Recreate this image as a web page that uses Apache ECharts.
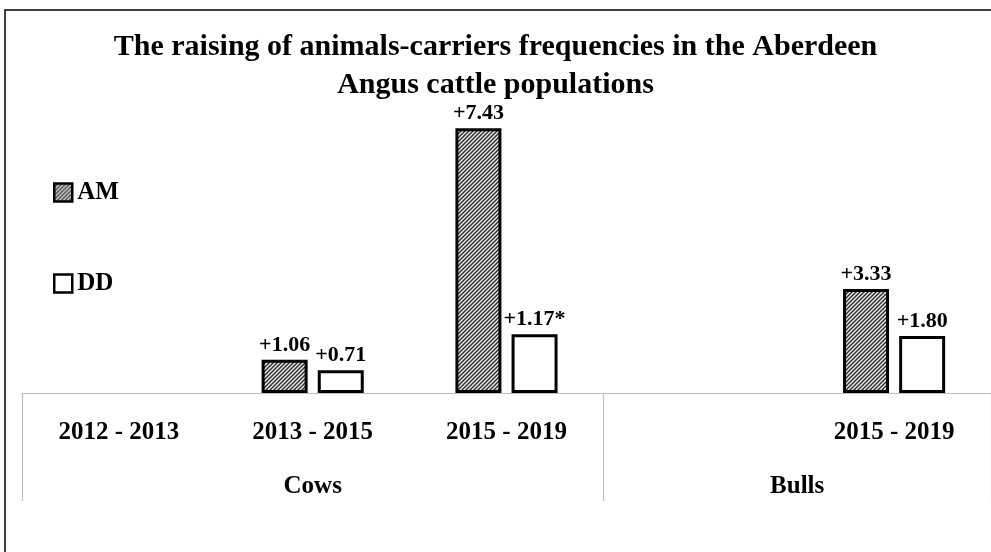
<!DOCTYPE html>
<html>
<head>
<meta charset="utf-8">
<script src="https://cdn.jsdelivr.net/npm/echarts@6/dist/echarts.min.js"></script>
<style>
  html, body { margin: 0; padding: 0; background: #fff; }
  #chart { width: 991px; height: 552px; }
</style>
</head>
<body>
<div id="chart"></div>
<script>
// periods along the bottom (the empty 4th slot leaves room for the Bulls group)
const categories = ['2012 - 2013', '2013 - 2015', '2015 - 2019', '', '2015 - 2019']
const groups = ['Cows', 'Bulls']
const groupCenters = [1.5, 4]
const groupEdges = [0, 3, 5]

// bar heights as drawn, and the printed labels above them
const amValues = ['-', 0.93, 7.43, '-', 2.92]
const ddValues = ['-', 0.64, 1.65, '-', 1.60]
const amLabels = ['', '+1.06', '+7.43', '', '+3.33']
const ddLabels = ['', '+0.71', '+1.17*', '', '+1.80']

const FONT = "'Liberation Serif', 'DejaVu Serif', serif"

// diagonal hatch for AM
const makeHatch = () => {
  const c = document.createElement('canvas')
  c.width = 4
  c.height = 4
  const ctx = c.getContext('2d')
  ctx.fillStyle = '#e6e6e6'
  ctx.fillRect(0, 0, 4, 4)
  ctx.strokeStyle = '#2a2a2a'
  ctx.lineWidth = 1.3
  ctx.beginPath()
  ctx.moveTo(-1, 5); ctx.lineTo(5, -1)
  ctx.moveTo(-1, 1); ctx.lineTo(1, -1)
  ctx.moveTo(3, 5); ctx.lineTo(5, 3)
  ctx.stroke()
  return c
}
const hatch = { image: makeHatch(), repeat: 'repeat' }

const chart = echarts.init(document.getElementById('chart'))

const labelStyle = (texts) => ({
  show: true,
  position: 'top',
  distance: 4,
  color: '#000',
  fontFamily: FONT,
  fontWeight: 'bold',
  fontSize: 22,
  formatter: (p) => texts[p.dataIndex]
})

const option = {
  animation: false,
  backgroundColor: '#fff',
  title: {
    text: 'The raising of animals-carriers frequencies in the Aberdeen\nAngus cattle populations',
    left: 'center',
    top: 23,
    textStyle: {
      fontFamily: FONT,
      fontWeight: 'bold',
      fontSize: 30,
      lineHeight: 38,
      color: '#000'
    }
  },
  legend: {
    orient: 'vertical',
    left: 48,
    top: 175,
    itemGap: 66,
    itemWidth: 18,
    itemHeight: 18,
    icon: 'rect',
    itemStyle: { borderColor: '#000', borderWidth: 2.5 },
    textStyle: { fontFamily: FONT, fontWeight: 'bold', fontSize: 25, color: '#000' },
    data: ['AM', 'DD']
  },
  graphic: [
    {
      // frame: left and top edges only
      type: 'polyline',
      shape: { points: [[5, 560], [5, 10], [995, 10]] },
      style: { fill: 'none', stroke: '#000', lineWidth: 1.5 },
      silent: true
    }
  ],
  grid: { left: 22, right: 0, top: 108, bottom: 159 },
  xAxis: [
    {
      type: 'category',
      data: categories,
      axisLine: { lineStyle: { color: '#bfbfbf', width: 1.2 } },
      axisTick: { show: false },
      axisLabel: {
        interval: 0,
        margin: 27,
        color: '#000',
        fontFamily: FONT,
        fontWeight: 'bold',
        fontSize: 25
      }
    },
    {
      type: 'value',
      position: 'bottom',
      min: 0,
      max: 5,
      axisLine: { show: false },
      splitLine: { show: false },
      axisTick: {
        show: true,
        length: 108,
        customValues: groupEdges,
        lineStyle: { color: '#bfbfbf', width: 1.2 }
      },
      axisLabel: {
        margin: 81,
        customValues: groupCenters,
        formatter: (v) => groups[groupCenters.indexOf(v)],
        color: '#000',
        fontFamily: FONT,
        fontWeight: 'bold',
        fontSize: 25
      }
    }
  ],
  yAxis: {
    type: 'value',
    min: 0,
    max: 8,
    show: false,
    splitLine: { show: false }
  },
  series: [
    {
      name: 'AM',
      type: 'bar',
      barWidth: 46,
      barGap: '22%',
      data: amValues,
      itemStyle: { color: hatch, borderColor: '#000', borderWidth: 3 },
      label: labelStyle(amLabels)
    },
    {
      name: 'DD',
      type: 'bar',
      barWidth: 46,
      barGap: '22%',
      data: ddValues,
      itemStyle: { color: '#fff', borderColor: '#000', borderWidth: 3 },
      label: labelStyle(ddLabels)
    }
  ]
}

chart.setOption(option)
</script>
</body>
</html>
